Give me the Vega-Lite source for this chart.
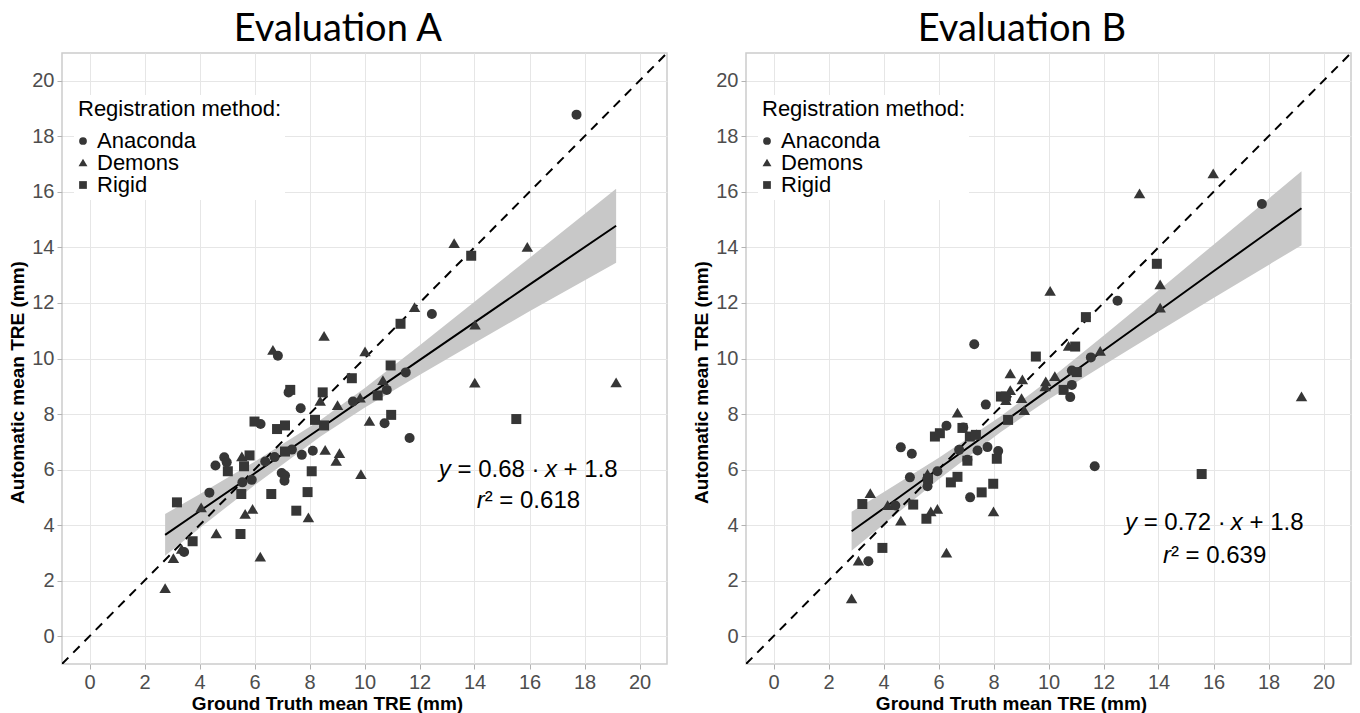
{
  "$schema": "https://vega.github.io/schema/vega-lite/v6.json",
  "background": "white",
  "padding": {"left": 8, "top": 10, "right": 0, "bottom": 0},
  "spacing": 24,
  "datasets": {
    "ptsA": [
      {"m":"Anaconda","gt":17.71,"auto":18.78},{"m":"Anaconda","gt":6.85,"auto":10.1},{"m":"Anaconda","gt":7.24,"auto":8.78},{"m":"Anaconda","gt":9.58,"auto":8.45},{"m":"Anaconda","gt":7.68,"auto":8.21},{"m":"Anaconda","gt":6.22,"auto":7.64},{"m":"Anaconda","gt":4.9,"auto":6.44},{"m":"Anaconda","gt":4.99,"auto":6.26},{"m":"Anaconda","gt":4.58,"auto":6.15},{"m":"Anaconda","gt":6.39,"auto":6.29},{"m":"Anaconda","gt":6.73,"auto":6.45},{"m":"Anaconda","gt":7.36,"auto":6.72},{"m":"Anaconda","gt":7.72,"auto":6.53},{"m":"Anaconda","gt":8.12,"auto":6.68},{"m":"Anaconda","gt":6.99,"auto":5.88},{"m":"Anaconda","gt":7.11,"auto":5.79},{"m":"Anaconda","gt":7.09,"auto":5.6},{"m":"Anaconda","gt":5.9,"auto":5.63},{"m":"Anaconda","gt":5.56,"auto":5.54},{"m":"Anaconda","gt":4.36,"auto":5.17},{"m":"Anaconda","gt":3.44,"auto":3.03},{"m":"Anaconda","gt":12.45,"auto":11.6},{"m":"Anaconda","gt":11.5,"auto":9.5},{"m":"Anaconda","gt":10.81,"auto":8.87},{"m":"Anaconda","gt":10.73,"auto":7.67},{"m":"Anaconda","gt":11.64,"auto":7.14},
      {"m":"Demons","gt":8.53,"auto":10.79},{"m":"Demons","gt":6.67,"auto":10.29},{"m":"Demons","gt":8.39,"auto":8.45},{"m":"Demons","gt":9.02,"auto":8.3},{"m":"Demons","gt":5.54,"auto":6.45},{"m":"Demons","gt":8.57,"auto":6.69},{"m":"Demons","gt":9.09,"auto":6.57},{"m":"Demons","gt":8.97,"auto":6.29},{"m":"Demons","gt":4.06,"auto":4.62},{"m":"Demons","gt":5.93,"auto":4.56},{"m":"Demons","gt":5.66,"auto":4.38},{"m":"Demons","gt":7.96,"auto":4.26},{"m":"Demons","gt":4.61,"auto":3.68},{"m":"Demons","gt":3.05,"auto":2.79},{"m":"Demons","gt":3.35,"auto":3.12},{"m":"Demons","gt":6.21,"auto":2.84},{"m":"Demons","gt":2.75,"auto":1.71},{"m":"Demons","gt":9.87,"auto":5.81},{"m":"Demons","gt":13.26,"auto":14.13},{"m":"Demons","gt":15.92,"auto":14.0},{"m":"Demons","gt":11.82,"auto":11.83},{"m":"Demons","gt":14.02,"auto":11.2},{"m":"Demons","gt":10.02,"auto":10.23},{"m":"Demons","gt":10.67,"auto":9.2},{"m":"Demons","gt":14.01,"auto":9.11},{"m":"Demons","gt":19.15,"auto":9.12},{"m":"Demons","gt":9.84,"auto":8.57},{"m":"Demons","gt":10.18,"auto":7.73},
      {"m":"Rigid","gt":7.3,"auto":8.87},{"m":"Rigid","gt":8.48,"auto":8.78},{"m":"Rigid","gt":9.54,"auto":9.29},{"m":"Rigid","gt":6.0,"auto":7.73},{"m":"Rigid","gt":6.82,"auto":7.46},{"m":"Rigid","gt":7.11,"auto":7.59},{"m":"Rigid","gt":8.2,"auto":7.79},{"m":"Rigid","gt":8.53,"auto":7.59},{"m":"Rigid","gt":5.82,"auto":6.51},{"m":"Rigid","gt":5.03,"auto":5.94},{"m":"Rigid","gt":5.62,"auto":6.12},{"m":"Rigid","gt":7.11,"auto":6.65},{"m":"Rigid","gt":8.08,"auto":5.94},{"m":"Rigid","gt":5.52,"auto":5.12},{"m":"Rigid","gt":6.61,"auto":5.12},{"m":"Rigid","gt":7.93,"auto":5.19},{"m":"Rigid","gt":3.18,"auto":4.82},{"m":"Rigid","gt":7.52,"auto":4.52},{"m":"Rigid","gt":5.49,"auto":3.68},{"m":"Rigid","gt":3.75,"auto":3.42},{"m":"Rigid","gt":13.88,"auto":13.7},{"m":"Rigid","gt":11.31,"auto":11.25},{"m":"Rigid","gt":10.95,"auto":9.75},{"m":"Rigid","gt":10.48,"auto":8.67},{"m":"Rigid","gt":10.97,"auto":7.97},{"m":"Rigid","gt":15.52,"auto":7.82}
    ],
    "ptsB": [
      {"m":"Anaconda","gt":7.3,"auto":10.51},{"m":"Anaconda","gt":7.72,"auto":8.34},{"m":"Anaconda","gt":6.29,"auto":7.58},{"m":"Anaconda","gt":6.9,"auto":7.52},{"m":"Anaconda","gt":4.63,"auto":6.8},{"m":"Anaconda","gt":5.03,"auto":6.57},{"m":"Anaconda","gt":7.78,"auto":6.81},{"m":"Anaconda","gt":7.42,"auto":6.69},{"m":"Anaconda","gt":8.17,"auto":6.67},{"m":"Anaconda","gt":6.75,"auto":6.71},{"m":"Anaconda","gt":7.05,"auto":6.35},{"m":"Anaconda","gt":5.96,"auto":5.94},{"m":"Anaconda","gt":4.96,"auto":5.72},{"m":"Anaconda","gt":5.6,"auto":5.4},{"m":"Anaconda","gt":7.15,"auto":5.0},{"m":"Anaconda","gt":4.43,"auto":4.71},{"m":"Anaconda","gt":3.45,"auto":2.7},{"m":"Anaconda","gt":17.76,"auto":15.56},{"m":"Anaconda","gt":12.51,"auto":12.08},{"m":"Anaconda","gt":11.54,"auto":10.04},{"m":"Anaconda","gt":10.85,"auto":9.57},{"m":"Anaconda","gt":10.85,"auto":9.05},{"m":"Anaconda","gt":10.79,"auto":8.61},{"m":"Anaconda","gt":11.68,"auto":6.12},
      {"m":"Demons","gt":8.61,"auto":9.44},{"m":"Demons","gt":9.05,"auto":9.23},{"m":"Demons","gt":8.61,"auto":8.84},{"m":"Demons","gt":8.45,"auto":8.48},{"m":"Demons","gt":9.02,"auto":8.55},{"m":"Demons","gt":6.69,"auto":8.03},{"m":"Demons","gt":9.12,"auto":8.12},{"m":"Demons","gt":5.6,"auto":5.82},{"m":"Demons","gt":3.52,"auto":5.13},{"m":"Demons","gt":4.15,"auto":4.7},{"m":"Demons","gt":4.63,"auto":4.14},{"m":"Demons","gt":5.72,"auto":4.47},{"m":"Demons","gt":5.96,"auto":4.56},{"m":"Demons","gt":8.0,"auto":4.47},{"m":"Demons","gt":6.29,"auto":2.99},{"m":"Demons","gt":3.09,"auto":2.7},{"m":"Demons","gt":2.84,"auto":1.34},{"m":"Demons","gt":15.99,"auto":16.64},{"m":"Demons","gt":13.31,"auto":15.92},{"m":"Demons","gt":14.06,"auto":12.65},{"m":"Demons","gt":14.06,"auto":11.81},{"m":"Demons","gt":10.06,"auto":12.41},{"m":"Demons","gt":10.73,"auto":10.43},{"m":"Demons","gt":11.88,"auto":10.25},{"m":"Demons","gt":9.9,"auto":9.15},{"m":"Demons","gt":9.88,"auto":8.97},{"m":"Demons","gt":10.23,"auto":9.34},{"m":"Demons","gt":19.2,"auto":8.61},
      {"m":"Rigid","gt":9.54,"auto":10.07},{"m":"Rigid","gt":8.27,"auto":8.63},{"m":"Rigid","gt":8.45,"auto":8.63},{"m":"Rigid","gt":8.53,"auto":7.79},{"m":"Rigid","gt":5.87,"auto":7.19},{"m":"Rigid","gt":6.05,"auto":7.31},{"m":"Rigid","gt":6.87,"auto":7.5},{"m":"Rigid","gt":7.14,"auto":7.19},{"m":"Rigid","gt":7.36,"auto":7.25},{"m":"Rigid","gt":7.05,"auto":6.32},{"m":"Rigid","gt":8.12,"auto":6.39},{"m":"Rigid","gt":5.62,"auto":5.67},{"m":"Rigid","gt":6.69,"auto":5.74},{"m":"Rigid","gt":6.45,"auto":5.54},{"m":"Rigid","gt":7.99,"auto":5.49},{"m":"Rigid","gt":7.57,"auto":5.18},{"m":"Rigid","gt":3.23,"auto":4.76},{"m":"Rigid","gt":5.08,"auto":4.74},{"m":"Rigid","gt":5.56,"auto":4.23},{"m":"Rigid","gt":3.96,"auto":3.18},{"m":"Rigid","gt":13.94,"auto":13.41},{"m":"Rigid","gt":11.36,"auto":11.49},{"m":"Rigid","gt":10.97,"auto":10.43},{"m":"Rigid","gt":11.03,"auto":9.51},{"m":"Rigid","gt":10.55,"auto":8.87},{"m":"Rigid","gt":15.57,"auto":5.84}
    ],
    "fitA": [
      {"x":2.75,"fit":3.65,"lo":2.9,"hi":4.4},{"x":4,"fit":4.5,"lo":3.89,"hi":5.11},{"x":6,"fit":5.86,"lo":5.44,"hi":6.28},{"x":8.4,"fit":7.49,"lo":7.19,"hi":7.79},{"x":10,"fit":8.58,"lo":8.23,"hi":8.93},{"x":12,"fit":9.94,"lo":9.41,"hi":10.47},{"x":14,"fit":11.3,"lo":10.56,"hi":12.04},{"x":16,"fit":12.66,"lo":11.7,"hi":13.62},{"x":19.15,"fit":14.78,"lo":13.45,"hi":16.11}
    ],
    "fitB": [
      {"x":2.84,"fit":3.78,"lo":3.08,"hi":4.48},{"x":4,"fit":4.6,"lo":4.02,"hi":5.18},{"x":6,"fit":6.03,"lo":5.64,"hi":6.42},{"x":8.24,"fit":7.62,"lo":7.34,"hi":7.9},{"x":10,"fit":8.87,"lo":8.52,"hi":9.22},{"x":12,"fit":10.29,"lo":9.76,"hi":10.82},{"x":14,"fit":11.71,"lo":10.97,"hi":12.45},{"x":16,"fit":13.14,"lo":12.18,"hi":14.1},{"x":19.2,"fit":15.41,"lo":14.08,"hi":16.74}
    ],
    "diag": [{"x":-1,"y":-1},{"x":21,"y":21}],
    "eqA": [{"x":13.38,"y":6.0,"t":"= 0.68 ·"},{"x":17.24,"y":6.0,"t":"+ 1.8"},{"x":14.37,"y":4.86,"t":"² = 0.618"}],
    "eqAi": [{"x":12.7,"y":6.0,"t":"y"},{"x":16.56,"y":6.0,"t":"x"},{"x":14.08,"y":4.86,"t":"r"}],
    "eqB": [{"x":13.46,"y":4.06,"t":"= 0.72 ·"},{"x":17.31,"y":4.06,"t":"+ 1.8"},{"x":14.45,"y":2.88,"t":"² = 0.639"}],
    "eqBi": [{"x":12.78,"y":4.06,"t":"y"},{"x":16.63,"y":4.06,"t":"x"},{"x":14.16,"y":2.88,"t":"r"}]
  },
  "config": {
    "view": {"stroke": "#cccccc", "strokeWidth": 1.5},
    "axis": {
      "labelFont": "Liberation Sans", "labelFontSize": 20, "labelColor": "#4d4d4d",
      "titleFont": "Liberation Sans", "titleFontSize": 19, "titleFontWeight": "bold", "titleColor": "black",
      "domain": false, "tickColor": "#b3b3b3", "tickSize": 5, "labelPadding": 3, "gridWidth": 1
    },
    "title": {"font": "Lato", "fontSize": 38, "fontWeight": "normal", "color": "black", "anchor": "middle", "frame": "bounds", "offset": 4},
    "legend": {
      "titleFont": "Liberation Sans", "titleFontSize": 22, "titleFontWeight": "normal", "titleColor": "black", "titleLimit": 400,
      "labelFont": "Liberation Sans", "labelFontSize": 22, "labelColor": "black", "labelLimit": 300,
      "symbolSize": 60, "symbolFillColor": "#363636", "symbolStrokeColor": "#363636", "symbolStrokeWidth": 0, "symbolOffset": -6,
      "rowPadding": 0, "labelOffset": 3, "titlePadding": 9, "fillColor": "white", "padding": 4
    }
  },
  "resolve": {"scale": {"shape": "independent"}, "legend": {"shape": "independent"}},
  "hconcat": [
    {
      "width": 605, "height": 611,
      "title": {"text": "Evaluation A"},
      "layer": [
        {
          "data": {"name": "fitA"},
          "mark": {"type": "area", "color": "#c8c8c8", "opacity": 1},
          "encoding": {
            "x": {"field": "x", "type": "quantitative", "scale": {"domain": [-1, 21], "nice": false, "zero": false},
              "axis": {"title": "Ground Truth mean TRE (mm)", "values": [0,1,2,3,4,5,6,7,8,9,10,11,12,13,14,15,16,17,18,19,20],
                "labelExpr": "datum.value % 2 === 0 ? datum.label : ''",
                "gridColor": {"condition": {"test": "datum.value % 2 === 0", "value": "#e6e6e6"}, "value": "#f3f3f3"},
                "tickOpacity": {"condition": {"test": "datum.value % 2 === 0", "value": 1}, "value": 0}, "titlePadding": 2, "titleX": 265}},
            "y": {"field": "lo", "type": "quantitative", "scale": {"domain": [-1, 21], "nice": false, "zero": false},
              "axis": {"title": "Automatic mean TRE (mm)", "values": [0,1,2,3,4,5,6,7,8,9,10,11,12,13,14,15,16,17,18,19,20],
                "labelExpr": "datum.value % 2 === 0 ? datum.label : ''",
                "gridColor": {"condition": {"test": "datum.value % 2 === 0", "value": "#e6e6e6"}, "value": "#f3f3f3"},
                "tickOpacity": {"condition": {"test": "datum.value % 2 === 0", "value": 1}, "value": 0}, "titlePadding": 4, "titleY": 329}},
            "y2": {"field": "hi"}
          }
        },
        {
          "data": {"name": "fitA"},
          "mark": {"type": "line", "color": "black", "strokeWidth": 2},
          "encoding": {
            "x": {"field": "x", "type": "quantitative"},
            "y": {"field": "fit", "type": "quantitative"}
          }
        },
        {
          "data": {"name": "diag"},
          "mark": {"type": "line", "color": "black", "strokeWidth": 2, "strokeDash": [9, 7], "clip": true},
          "encoding": {
            "x": {"field": "x", "type": "quantitative"},
            "y": {"field": "y", "type": "quantitative"}
          }
        },
        {
          "data": {"name": "ptsA"},
          "mark": {"type": "point", "filled": true, "size": 100, "color": "#363636", "opacity": 1},
          "encoding": {
            "x": {"field": "gt", "type": "quantitative"},
            "y": {"field": "auto", "type": "quantitative"},
            "shape": {"field": "m", "type": "nominal",
              "scale": {"domain": ["Anaconda", "Demons", "Rigid"], "range": ["circle", "M-1.15,0.85L1.15,0.85L0,-1.1Z", "square"]},
              "legend": {"title": "Registration method:", "orient": "none", "legendX": 12, "legendY": 42}}
          }
        },
        {
          "data": {"name": "eqA"},
          "mark": {"type": "text", "font": "Liberation Sans", "fontSize": 24, "color": "black", "align": "left", "baseline": "middle"},
          "encoding": {
            "x": {"field": "x", "type": "quantitative"},
            "y": {"field": "y", "type": "quantitative"},
            "text": {"field": "t"}
          }
        },
        {
          "data": {"name": "eqAi"},
          "mark": {"type": "text", "font": "Liberation Sans", "fontSize": 24, "fontStyle": "italic", "color": "black", "align": "left", "baseline": "middle"},
          "encoding": {
            "x": {"field": "x", "type": "quantitative"},
            "y": {"field": "y", "type": "quantitative"},
            "text": {"field": "t"}
          }
        }
      ]
    },
    {
      "width": 605, "height": 611,
      "title": {"text": "Evaluation B"},
      "layer": [
        {
          "data": {"name": "fitB"},
          "mark": {"type": "area", "color": "#c8c8c8", "opacity": 1},
          "encoding": {
            "x": {"field": "x", "type": "quantitative", "scale": {"domain": [-1, 21], "nice": false, "zero": false},
              "axis": {"title": "Ground Truth mean TRE (mm)", "values": [0,1,2,3,4,5,6,7,8,9,10,11,12,13,14,15,16,17,18,19,20],
                "labelExpr": "datum.value % 2 === 0 ? datum.label : ''",
                "gridColor": {"condition": {"test": "datum.value % 2 === 0", "value": "#e6e6e6"}, "value": "#f3f3f3"},
                "tickOpacity": {"condition": {"test": "datum.value % 2 === 0", "value": 1}, "value": 0}, "titlePadding": 2, "titleX": 265}},
            "y": {"field": "lo", "type": "quantitative", "scale": {"domain": [-1, 21], "nice": false, "zero": false},
              "axis": {"title": "Automatic mean TRE (mm)", "values": [0,1,2,3,4,5,6,7,8,9,10,11,12,13,14,15,16,17,18,19,20],
                "labelExpr": "datum.value % 2 === 0 ? datum.label : ''",
                "gridColor": {"condition": {"test": "datum.value % 2 === 0", "value": "#e6e6e6"}, "value": "#f3f3f3"},
                "tickOpacity": {"condition": {"test": "datum.value % 2 === 0", "value": 1}, "value": 0}, "titlePadding": 4, "titleY": 329}},
            "y2": {"field": "hi"}
          }
        },
        {
          "data": {"name": "fitB"},
          "mark": {"type": "line", "color": "black", "strokeWidth": 2},
          "encoding": {
            "x": {"field": "x", "type": "quantitative"},
            "y": {"field": "fit", "type": "quantitative"}
          }
        },
        {
          "data": {"name": "diag"},
          "mark": {"type": "line", "color": "black", "strokeWidth": 2, "strokeDash": [9, 7], "clip": true},
          "encoding": {
            "x": {"field": "x", "type": "quantitative"},
            "y": {"field": "y", "type": "quantitative"}
          }
        },
        {
          "data": {"name": "ptsB"},
          "mark": {"type": "point", "filled": true, "size": 100, "color": "#363636", "opacity": 1},
          "encoding": {
            "x": {"field": "gt", "type": "quantitative"},
            "y": {"field": "auto", "type": "quantitative"},
            "shape": {"field": "m", "type": "nominal",
              "scale": {"domain": ["Anaconda", "Demons", "Rigid"], "range": ["circle", "M-1.15,0.85L1.15,0.85L0,-1.1Z", "square"]},
              "legend": {"title": "Registration method:", "orient": "none", "legendX": 12, "legendY": 42}}
          }
        },
        {
          "data": {"name": "eqB"},
          "mark": {"type": "text", "font": "Liberation Sans", "fontSize": 24, "color": "black", "align": "left", "baseline": "middle"},
          "encoding": {
            "x": {"field": "x", "type": "quantitative"},
            "y": {"field": "y", "type": "quantitative"},
            "text": {"field": "t"}
          }
        },
        {
          "data": {"name": "eqBi"},
          "mark": {"type": "text", "font": "Liberation Sans", "fontSize": 24, "fontStyle": "italic", "color": "black", "align": "left", "baseline": "middle"},
          "encoding": {
            "x": {"field": "x", "type": "quantitative"},
            "y": {"field": "y", "type": "quantitative"},
            "text": {"field": "t"}
          }
        }
      ]
    }
  ]
}
